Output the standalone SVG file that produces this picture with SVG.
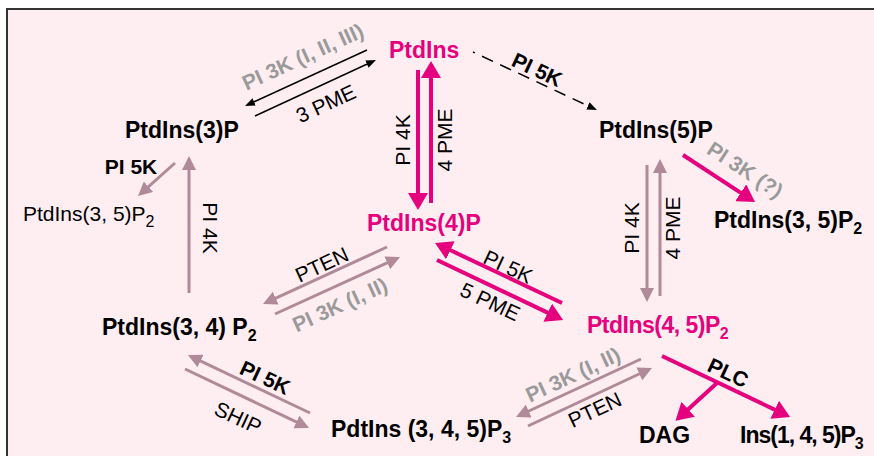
<svg xmlns="http://www.w3.org/2000/svg" width="874" height="456" viewBox="0 0 874 456">
<defs>
<style>
text{font-family:"Liberation Sans",Arial,sans-serif}
.node{font-size:23px;font-weight:bold;fill:#000}
.mag{fill:#E5007D}
.plain{font-size:21px;font-weight:normal;fill:#000}
.lbl{font-size:21px;fill:#000;text-anchor:middle}
.b{font-weight:bold}
.g{fill:#9A9A9A;font-weight:bold}
.sub{font-size:16px}
.lm{stroke:#E5007D;stroke-width:4;fill:none;marker-end:url(#hm)}
.lv{stroke:#B08A98;stroke-width:3;fill:none;marker-end:url(#hv)}
.lk{stroke:#000;stroke-width:1.5;fill:none;marker-end:url(#hk)}
</style>
<marker id="hm" markerUnits="userSpaceOnUse" markerWidth="17" markerHeight="20" refX="1" refY="10" orient="auto"><path d="M0,0 L17,10 L0,20 z" fill="#E5007D"/></marker>
<marker id="hv" markerUnits="userSpaceOnUse" markerWidth="14" markerHeight="14" refX="1" refY="7" orient="auto"><path d="M0,0 L14,7 L0,14 z" fill="#B08A98"/></marker>
<marker id="hk" markerUnits="userSpaceOnUse" markerWidth="10" markerHeight="8" refX="1" refY="4" orient="auto"><path d="M0,0 L10,4 L0,8 z" fill="#000"/></marker>
</defs>
<rect x="0" y="0" width="874" height="456" fill="#fff"/>
<rect x="7" y="9" width="880" height="460" fill="#FEEEF2" stroke="#333" stroke-width="2"/>

<g id="connectors">
<line class="lk" x1="367" y1="50" x2="253.2" y2="102.2"/>
<line class="lk" x1="255" y1="116" x2="367.8" y2="63.8"/>
<line class="lk" x1="473" y1="52" x2="588.8" y2="106.2" stroke-dasharray="12 8" stroke-dashoffset="10"/>
<line class="lm" x1="418" y1="70" x2="418" y2="194"/>
<line class="lm" x1="431" y1="203" x2="431" y2="77"/>
<line class="lv" x1="175" y1="163" x2="147.7" y2="187.4"/>
<line class="lv" x1="189" y1="293" x2="189" y2="169"/>
<line class="lv" x1="387" y1="247" x2="274.8" y2="298.6"/>
<line class="lv" x1="275" y1="314" x2="388.2" y2="262.4"/>
<line class="lm" x1="562" y1="303" x2="449.5" y2="249.8"/>
<line class="lm" x1="437" y1="260" x2="548.6" y2="313.1"/>
<line class="lv" x1="647" y1="165" x2="647" y2="289"/>
<line class="lv" x1="660" y1="296" x2="660" y2="172"/>
<line class="lm" x1="683" y1="155" x2="741.6" y2="193.3"/>
<line class="lv" x1="310" y1="413" x2="199.7" y2="360.6"/>
<line class="lv" x1="185" y1="369" x2="297.3" y2="422.4"/>
<line class="lv" x1="641" y1="359" x2="527.8" y2="411.5"/>
<line class="lv" x1="528" y1="426" x2="640.2" y2="373.5"/>
<line class="lm" x1="662" y1="356" x2="775.6" y2="410.1"/>
<line class="lm" x1="717" y1="383" x2="687.4" y2="409.9"/>

<text class="lbl g" transform="translate(303,57) rotate(-24.7)" y="7">PI 3K (I, II, III)</text>
<text class="lbl" transform="translate(326,104) rotate(-24.7)" y="7">3 PME</text>
<text class="lbl b" transform="translate(537,70) rotate(25)" y="7">PI 5K</text>
<text class="lbl" transform="translate(403,140) rotate(-90)" y="7">PI 4K</text>
<text class="lbl" transform="translate(445,140) rotate(-90)" y="7">4 PME</text>
<text class="lbl b" x="131" y="174">PI 5K</text>
<text class="lbl" transform="translate(210,228) rotate(90)" y="7">PI 4K</text>
<text class="lbl" transform="translate(322,265) rotate(-24.7)" y="7">PTEN</text>
<text class="lbl g" transform="translate(340,305) rotate(-24.7)" y="7">PI 3K (I, II)</text>
<text class="lbl" transform="translate(508,267) rotate(25)" y="7">PI 5K</text>
<text class="lbl" transform="translate(490,302) rotate(25)" y="7">5 PME</text>
<text class="lbl" transform="translate(632,228) rotate(-90)" y="7">PI 4K</text>
<text class="lbl" transform="translate(673,228) rotate(-90)" y="7">4 PME</text>
<text class="lbl g" transform="translate(745,170) rotate(33)" y="7">PI 3K (?)</text>
<text class="lbl b" transform="translate(265,378) rotate(25)" y="7">PI 5K</text>
<text class="lbl" transform="translate(238,418) rotate(25)" y="7">SHIP</text>
<text class="lbl g" transform="translate(573,375) rotate(-25)" y="7">PI 3K (I, II)</text>
<text class="lbl" transform="translate(595,410) rotate(-25)" y="7">PTEN</text>
<text class="lbl b" transform="translate(728,373) rotate(25)" y="7">PLC</text>
</g>

<g id="n-ptdins"><text class="node mag" x="389" y="58">PtdIns</text></g>
<g id="n-pi3p"><text class="node" x="125" y="138">PtdIns(3)P</text></g>
<g id="n-pi5p"><text class="node" x="599" y="138">PtdIns(5)P</text></g>
<g id="n-pi4p"><text class="node mag" x="367" y="231">PtdIns(4)P</text></g>
<g id="n-pi35p2-left"><text class="plain" x="23" y="221">PtdIns(3, 5)P<tspan class="sub" dy="6">2</tspan></text></g>
<g id="n-pi35p2-right"><text class="node" x="714" y="228">PtdIns(3, 5)P<tspan class="sub" dy="6">2</tspan></text></g>
<g id="n-pi34p2"><text class="node" x="102" y="335">PtdIns(3, 4) P<tspan class="sub" dy="6">2</tspan></text></g>
<g id="n-pi45p2"><text class="node mag" x="587" y="333" letter-spacing="-0.5">PtdIns(4, 5)P<tspan class="sub" dy="6">2</tspan></text></g>
<g id="n-pip3"><text class="node" x="331" y="437">PdtIns (3, 4, 5)P<tspan class="sub" dy="6">3</tspan></text></g>
<g id="n-dag"><text class="node" x="639" y="443">DAG</text></g>
<g id="n-ip3"><text class="node" x="740" y="443" letter-spacing="-1">Ins(1, 4, 5)P<tspan class="sub" dy="6">3</tspan></text></g>
</svg>
